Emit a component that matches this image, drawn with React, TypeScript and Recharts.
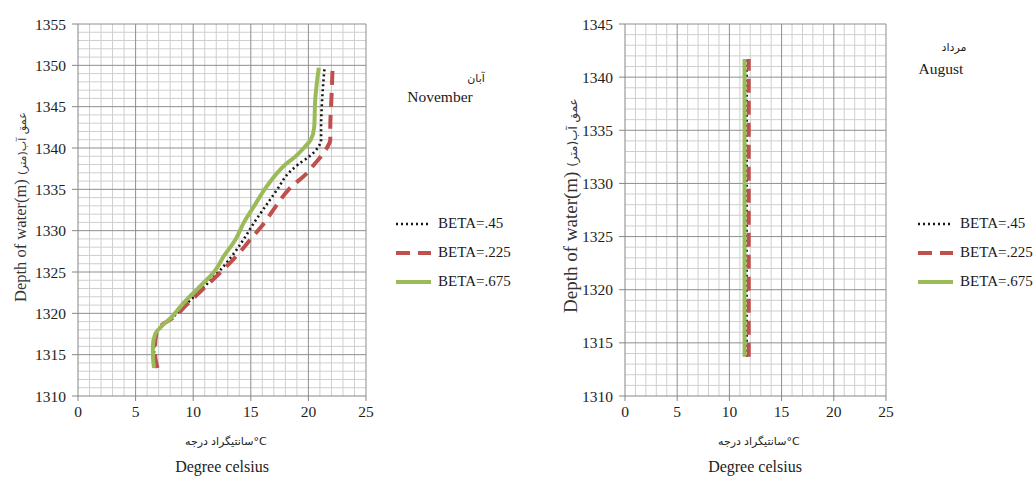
import React from 'react';
import { LineChart, Line, XAxis, YAxis, ReferenceLine, Legend } from 'recharts';

// ---------- data ----------
// November (آبان): depth of water (m), temperature (°C) per BETA
const novDepth = [1313.4, 1315, 1316, 1317.5, 1318.5, 1319.5, 1321, 1323, 1325, 1327, 1329, 1331, 1333, 1335, 1337, 1338, 1339, 1340, 1341, 1342.5, 1346, 1349.7];
const novBeta45 = [6.7, 6.6, 6.6, 6.75, 7.3, 8.2, 9.3, 10.8, 12.2, 13.4, 14.4, 15.3, 16.3, 17.3, 18.3, 19.1, 20.1, 20.8, 21.1, 21.1, 21.2, 21.4];
const novBeta225 = [6.9, 6.7, 6.7, 6.8, 7.2, 8.3, 9.4, 10.9, 12.4, 13.8, 15.0, 16.2, 17.2, 18.3, 19.9, 20.5, 21.1, 21.6, 21.9, 21.9, 22.0, 22.1];
const novBeta675 = [6.6, 6.5, 6.5, 6.7, 7.3, 8.1, 9.0, 10.4, 11.8, 12.7, 13.7, 14.4, 15.3, 16.2, 17.3, 18.0, 18.9, 19.6, 20.2, 20.5, 20.6, 20.9];

// August (مرداد)
const augDepth = [1313.7, 1318, 1322, 1326, 1330, 1334, 1338, 1341.7];
const augBeta45 = [11.65, 11.65, 11.65, 11.65, 11.65, 11.65, 11.65, 11.65];
const augBeta225 = [11.85, 11.85, 11.85, 11.85, 11.85, 11.85, 11.85, 11.85];
const augBeta675 = [11.45, 11.45, 11.45, 11.45, 11.45, 11.45, 11.45, 11.45];

// tick labels
const tempTicks = [0, 5, 10, 15, 20, 25];
const novDepthTicks = [1310, 1315, 1320, 1325, 1330, 1335, 1340, 1345, 1350, 1355];
const augDepthTicks = [1310, 1315, 1320, 1325, 1330, 1335, 1340, 1345];

const seriesKeys = ['b45', 'b225', 'b675'];
const seriesNames = ['BETA=.45', 'BETA=.225', 'BETA=.675'];

// ---------- styling ----------
const FONT = "'Liberation Serif', Tinos, 'Times New Roman', serif";
const ARFONT = "'DejaVu Sans', 'Noto Sans', sans-serif";
const STYLE: Record<string, { color: string; width: number; dash?: string }> = {
  b45: { color: '#161616', width: 2.6, dash: '2 3' },
  b225: { color: '#C0504D', width: 4, dash: '14 8' },
  b675: { color: '#9BBB59', width: 4 },
};
const MINOR = '#cfcfcf';
const MAJOR = '#8e8e8e';
const AXIS = '#868686';

const novData = novDepth.map((d, i) => ({ depth: d, b45: novBeta45[i], b225: novBeta225[i], b675: novBeta675[i] }));
const augData = augDepth.map((d, i) => ({ depth: d, b45: augBeta45[i], b225: augBeta225[i], b675: augBeta675[i] }));

const intsBetween = (a: number, b: number) => {
  const out: number[] = [];
  for (let v = a; v <= b; v += 1) out.push(v);
  return out;
};

const LegendBox = (props: any) => {
  const payload = [...(props.payload || [])].sort(
    (a: any, b: any) => seriesKeys.indexOf(a.dataKey) - seriesKeys.indexOf(b.dataKey)
  );
  return (
    <div style={{ fontFamily: FONT, fontSize: 15, color: '#1a1a1a' }}>
      {payload.map((p: any) => {
        const s = STYLE[p.dataKey];
        return (
          <div key={p.dataKey} style={{ display: 'flex', alignItems: 'center', height: 29, whiteSpace: 'nowrap' }}>
            <svg width={37} height={10} style={{ display: 'block' }}>
              <line x1={1} y1={5} x2={36} y2={5} stroke={s.color} strokeWidth={s.width} strokeDasharray={s.dash} />
            </svg>
            <span style={{ marginLeft: 6 }}>{p.value}</span>
          </div>
        );
      })}
    </div>
  );
};

const tickStyle = { fontFamily: FONT, fontSize: 15.5, fill: '#1e1e1e' };

function Profile(props: { data: any[]; depthTicks: number[]; yDomain: [number, number]; width: number; yAxisWidth: number; right: number; legendLeft: number }) {
  const { data, depthTicks, yDomain, width, yAxisWidth, right, legendLeft } = props;
  const xs = intsBetween(1, 25);
  const ys = intsBetween(yDomain[0] + 1, yDomain[1]);
  return (
    <LineChart
      layout="vertical"
      width={width}
      height={477}
      data={data}
      margin={{ top: 24, right, bottom: 51, left: 0 }}
    >
      <XAxis
        type="number"
        domain={[0, 25]}
        ticks={tempTicks}
        allowDataOverflow
        height={30}
        stroke={AXIS}
        tickSize={5}
        tickMargin={5}
        tick={tickStyle}
      />
      <YAxis
        type="number"
        dataKey="depth"
        domain={yDomain}
        ticks={depthTicks}
        reversed
        allowDataOverflow
        width={yAxisWidth}
        stroke={AXIS}
        tickSize={6}
        tickMargin={6}
        tick={tickStyle}
      />
      {xs.filter((v) => v % 5 !== 0).map((v) => (
        <ReferenceLine key={'mx' + v} x={v} stroke={MINOR} strokeWidth={1} />
      ))}
      {ys.filter((v) => v % 5 !== 0).map((v) => (
        <ReferenceLine key={'my' + v} y={v} stroke={MINOR} strokeWidth={1} />
      ))}
      {xs.filter((v) => v % 5 === 0).map((v) => (
        <ReferenceLine key={'Mx' + v} x={v} stroke={MAJOR} strokeWidth={1} />
      ))}
      {ys.filter((v) => v % 5 === 0).map((v) => (
        <ReferenceLine key={'My' + v} y={v} stroke={MAJOR} strokeWidth={1} />
      ))}
      {seriesKeys.map((k, i) => (
        <Line
          key={k}
          dataKey={k}
          name={seriesNames[i]}
          type="monotone"
          stroke={STYLE[k].color}
          strokeWidth={STYLE[k].width}
          strokeDasharray={STYLE[k].dash}
          dot={false}
          activeDot={false}
          isAnimationActive={false}
        />
      ))}
      <Legend
        layout="vertical"
        align="center"
        verticalAlign="middle"
        content={<LegendBox />}
        wrapperStyle={{ left: legendLeft, top: 209, width: 120, height: 90 }}
      />
    </LineChart>
  );
}

function XTitle(props: { cx: number }) {
  const { cx } = props;
  return (
    <g>
      <text x={cx - 14} y={445} textAnchor="end" fontFamily={ARFONT} fontSize={11} fill="#222">درجه</text>
      <text x={cx - 11} y={445} textAnchor="start" fontFamily={ARFONT} fontSize={11} fill="#222">سانتیگراد°C</text>
      <text x={cx} y={472} textAnchor="middle" fontFamily={FONT} fontSize={16} fill="#222">Degree celsius</text>
    </g>
  );
}

export default function App() {
  return (
    <div style={{ position: 'absolute', left: 0, top: 0, width: 1036, height: 477, background: '#fff', overflow: 'hidden' }}>
      <div style={{ position: 'absolute', left: 0, top: 0 }}>
        <Profile data={novData} depthTicks={novDepthTicks} yDomain={[1310, 1355]} width={530} yAxisWidth={78} right={164} legendLeft={395} />
      </div>
      <div style={{ position: 'absolute', left: 540, top: 0 }}>
        <Profile data={augData} depthTicks={augDepthTicks} yDomain={[1310, 1345]} width={496} yAxisWidth={85} right={150} legendLeft={377} />
      </div>
      <svg width={1036} height={477} style={{ position: 'absolute', left: 0, top: 0, pointerEvents: 'none' }}>
        {/* titles */}
        <text x={476} y={82} textAnchor="middle" fontFamily={ARFONT} fontSize={11} fill="#222">آبان</text>
        <text x={440} y={102} textAnchor="middle" fontFamily={FONT} fontSize={15.5} fill="#1a1a1a">November</text>
        <text x={954} y={51} textAnchor="middle" fontFamily={ARFONT} fontSize={11} fill="#222">مرداد</text>
        <text x={941} y={74} textAnchor="middle" fontFamily={FONT} fontSize={15.5} fill="#1a1a1a">August</text>
        {/* y-axis titles */}
        <text transform="translate(26,302) rotate(-90)" textAnchor="start" fontFamily={FONT} fill="#333">
          <tspan fontSize={16.5}>Depth of water(m) </tspan>
          <tspan fontSize={11} fontFamily={ARFONT}>{'عمق آب(متر)\u200F'}</tspan>
        </text>
        <text transform="translate(577,313) rotate(-90)" textAnchor="start" fontFamily={FONT} fill="#333">
          <tspan fontSize={19}>Depth of water(m) </tspan>
          <tspan fontSize={12} fontFamily={ARFONT}>{'عمق آب(متر)\u200F'}</tspan>
        </text>
        {/* x-axis titles */}
        <XTitle cx={222} />
        <XTitle cx={755} />
      </svg>
    </div>
  );
}
